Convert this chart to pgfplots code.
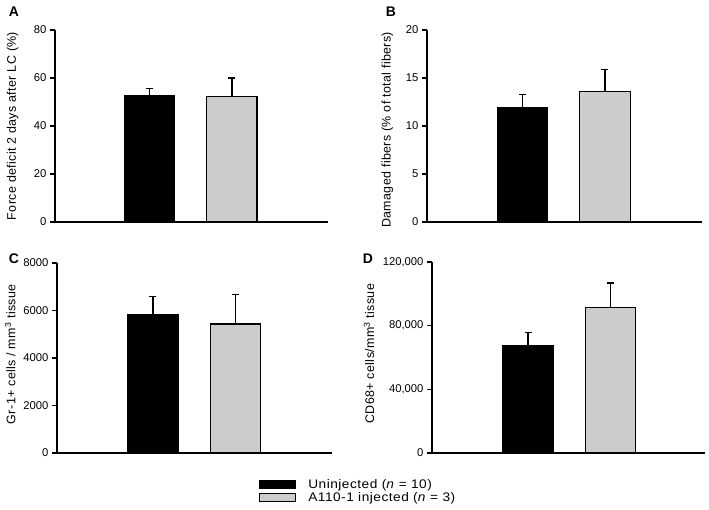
\documentclass[border=0pt]{standalone}
\usepackage{fontspec}
\setmainfont{Liberation Sans}
\newfontfamily\lblfont{Liberation Sans}[LetterSpace=3]
\newfontfamily\legfont{Liberation Sans}[FakeStretch=1.1, LetterSpace=4]
\usepackage{pgfplots}
\pgfplotsset{compat=1.18}
\definecolor{bargray}{RGB}{204,204,204}
\pgfplotsset{
  panel/.style={
    scale only axis,
    axis lines=left,
    axis line style={-, line width=1.1bp, black},
    xmin=0, xmax=1, ymin=0,
    xtick=\empty,
    tick align=outside,
    major tick length=5bp,
    ytick style={line width=1.1bp, black},
    tick label style={font=\fontsize{11.3}{13}\selectfont},
    label style={font=\lblfont\fontsize{12.5}{14}\selectfont},
    scaled y ticks=false,
    /pgf/number format/assume math mode=true,
    /pgf/number format/fixed,
    clip=false,
  },
  blackbar/.style={ybar, bar width=0.184, fill=black, draw=black, line width=1.1bp,
    error bars/y dir=plus, error bars/y explicit,
    error bars/error bar style={line width=1.5bp, black},
    error bars/error mark options={rotate=90, line width=1.5bp, mark size=3.5bp, black},
    legend image code/.code={\draw[##1, line width=1.1bp] (0bp,-2.4bp) rectangle (36bp,5.6bp);}},
  graybar/.style={ybar, bar width=0.184, fill=bargray, draw=black, line width=1.1bp,
    error bars/y dir=plus, error bars/y explicit,
    error bars/error bar style={line width=1.5bp, black},
    error bars/error mark options={rotate=90, line width=1.5bp, mark size=3.5bp, black},
    legend image code/.code={\draw[##1, line width=1.1bp] (0bp,-2.4bp) rectangle (36bp,5.6bp);}},
}
\begin{document}
\begin{tikzpicture}
\path[use as bounding box] (0,0) rectangle (709bp,510bp);
% Panel A
\begin{axis}[panel, at={(55bp,288bp)}, anchor=south west, width=273bp, height=192bp,
  ymax=80, ytick={0,20,40,60,80},
  ylabel={Force deficit 2 days after LC (\%)},
  ylabel style={at={(axis description cs:-0.155,0.5)}, anchor=center}]
\addplot[blackbar] coordinates {(0.347,52.5) +- (0,3.2)};
\addplot[graybar] coordinates {(0.648,52.3) +- (0,7.6)};
\end{axis}
% Panel B
\begin{axis}[panel, at={(427bp,288bp)}, anchor=south west, width=275bp, height=192bp,
  ymax=20, ytick={0,5,10,15,20},
  ylabel={Damaged fibers (\% of total fibers)},
  ylabel style={at={(axis description cs:-0.144,0.48)}, anchor=center}]
\addplot[blackbar] coordinates {(0.347,11.9) +- (0,1.4)};
\addplot[graybar] coordinates {(0.647,13.6) +- (0,2.3)};
\end{axis}
% Panel C
\begin{axis}[panel, at={(57bp,57bp)}, anchor=south west, width=275bp, height=190bp,
  ymax=8000, ytick={0,2000,4000,6000,8000},
  /pgf/number format/1000 sep={},
  ylabel={Gr-1+ cells / mm\textsuperscript{3} tissue},
  ylabel style={at={(axis description cs:-0.17,0.52)}, anchor=center},
  legend style={at={(axis description cs:0.7345,-0.137)}, anchor=north west, draw=none, fill=none,
    font=\legfont\fontsize{12.5}{13}\selectfont, inner sep=0pt, row sep=0pt,
    nodes={inner sep=0pt, text height=9.5bp, text depth=3.5bp},
    /tikz/every odd column/.append style={column sep=12bp}},
  legend cell align=left]
\addplot[blackbar] coordinates {(0.349,5830) +- (0,770)};
\addplot[graybar] coordinates {(0.649,5430) +- (0,1250)};
\legend{Uninjected (\textit{n} = 10), A110-1 injected (\textit{n} = 3)}
\end{axis}
% Panel D
\begin{axis}[panel, at={(432bp,57bp)}, anchor=south west, width=273bp, height=191bp,
  ymax=120000, ytick={0,40000,80000,120000},
  /pgf/number format/1000 sep={,},
  ylabel={CD68+ cells/mm\textsuperscript{3} tissue},
  ylabel style={at={(axis description cs:-0.231,0.52)}, anchor=center}]
\addplot[blackbar] coordinates {(0.352,67600) +- (0,8000)};
\addplot[graybar] coordinates {(0.654,91500) +- (0,15300)};
\end{axis}
\node[font=\fontsize{14}{16}\selectfont\bfseries] at (14bp,498bp) {A};
\node[font=\fontsize{14}{16}\selectfont\bfseries] at (391bp,498bp) {B};
\node[font=\fontsize{14}{16}\selectfont\bfseries] at (14bp,251bp) {C};
\node[font=\fontsize{14}{16}\selectfont\bfseries] at (368bp,251bp) {D};
\end{tikzpicture}
\end{document}
